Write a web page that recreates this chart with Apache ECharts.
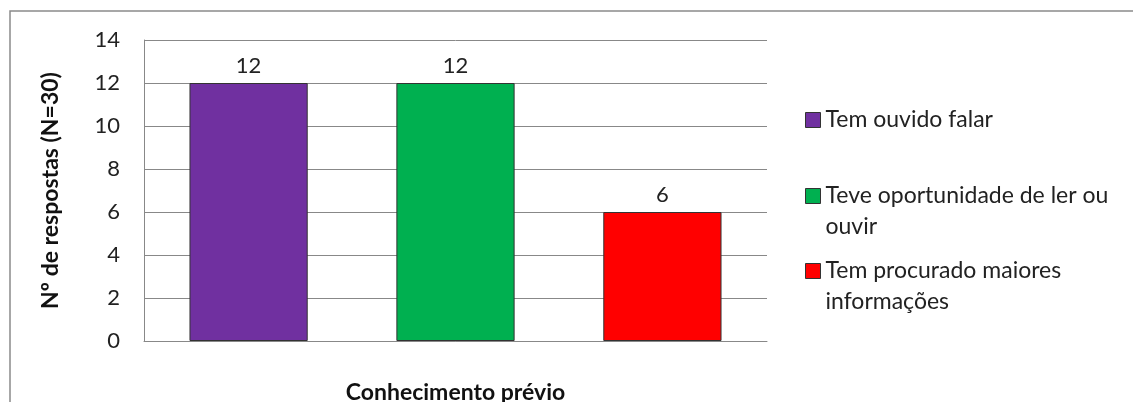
<!DOCTYPE html>
<html><head><meta charset="utf-8">
<script src="https://cdn.jsdelivr.net/npm/echarts@6/dist/echarts.min.js"></script>
<style>html,body{margin:0;padding:0;background:#fff}#c{width:1133px;height:402px}</style>
</head><body><div id="c"></div>
<script>
const categories = ['Conhecimento prévio'];
const seriesNames = ['Tem ouvido falar', 'Teve oportunidade de ler ou ouvir', 'Tem procurado maiores informações'];
const legendLabels = ['Tem ouvido falar', 'Teve oportunidade de ler ou\nouvir', 'Tem procurado maiores\ninformações'];
const values = [[12], [12], [6]];
const colors = ['#7030A0', '#00B050', '#FF0000'];
const yTicks = [0, 2, 4, 6, 8, 10, 12, 14];

const FONT = 'Lato';
const LH = 31;
const chart = echarts.init(document.getElementById('c'));
const iconCenters = [120, 196, 271];
const legends = seriesNames.map((n, i) => {
  const multi = legendLabels[i].includes('\n');
  const txt = multi ? '\u00a0\n' + legendLabels[i] : legendLabels[i];
  const h = multi ? 3 * LH : LH;
  return {
    orient: 'vertical', left: 805, top: iconCenters[i] - h / 2, padding: 0,
    itemWidth: 15, itemHeight: 15, icon: 'rect', itemGap: 0,
    data: [{ name: n, itemStyle: { borderColor: '#333', borderWidth: 1 } }],
    formatter: () => txt,
    textStyle: { fontFamily: FONT, fontSize: 23, color: '#222', lineHeight: LH },
    selectedMode: false
  };
});
chart.setOption({
  animation: false,
  graphic: [{ type: 'rect', shape: { x: 10, y: 11, width: 1200, height: 500 },
    style: { fill: 'none', stroke: '#8a8a8a', lineWidth: 1.5 }, silent: true }],
  grid: { left: 144, right: 366, top: 40, bottom: 61, outerBoundsMode: 'none', containLabel: false },
  legend: legends,
  xAxis: {
    type: 'category', data: categories,
    name: categories[0], nameLocation: 'middle', nameGap: 40,
    nameTextStyle: { fontFamily: FONT, fontSize: 23, fontWeight: 'bold', color: '#111' },
    axisLabel: { show: false }, axisTick: { show: false },
    axisLine: { lineStyle: { color: '#888', width: 1 } }
  },
  yAxis: {
    type: 'value', min: yTicks[0], max: yTicks[yTicks.length - 1], interval: 2,
    name: 'Nº de respostas (N=30)', nameLocation: 'middle', nameGap: 82,
    nameTextStyle: { fontFamily: FONT, fontSize: 23, fontWeight: 'bold', color: '#111' },
    axisLabel: { fontFamily: FONT, fontSize: 22, color: '#222', margin: 24 },
    axisTick: { show: false },
    axisLine: { show: true, lineStyle: { color: '#888', width: 1 } },
    splitLine: { lineStyle: { color: '#888', width: 1 } }
  },
  series: seriesNames.map((n, i) => ({
    type: 'bar', name: n, data: values[i],
    barGap: '75%', barCategoryGap: '14.6%',
    itemStyle: { color: colors[i], borderColor: '#333', borderWidth: 1 },
    label: { show: true, position: 'top', distance: 6, fontFamily: FONT, fontSize: 22, color: '#222' }
  }))
});
</script></body></html>
